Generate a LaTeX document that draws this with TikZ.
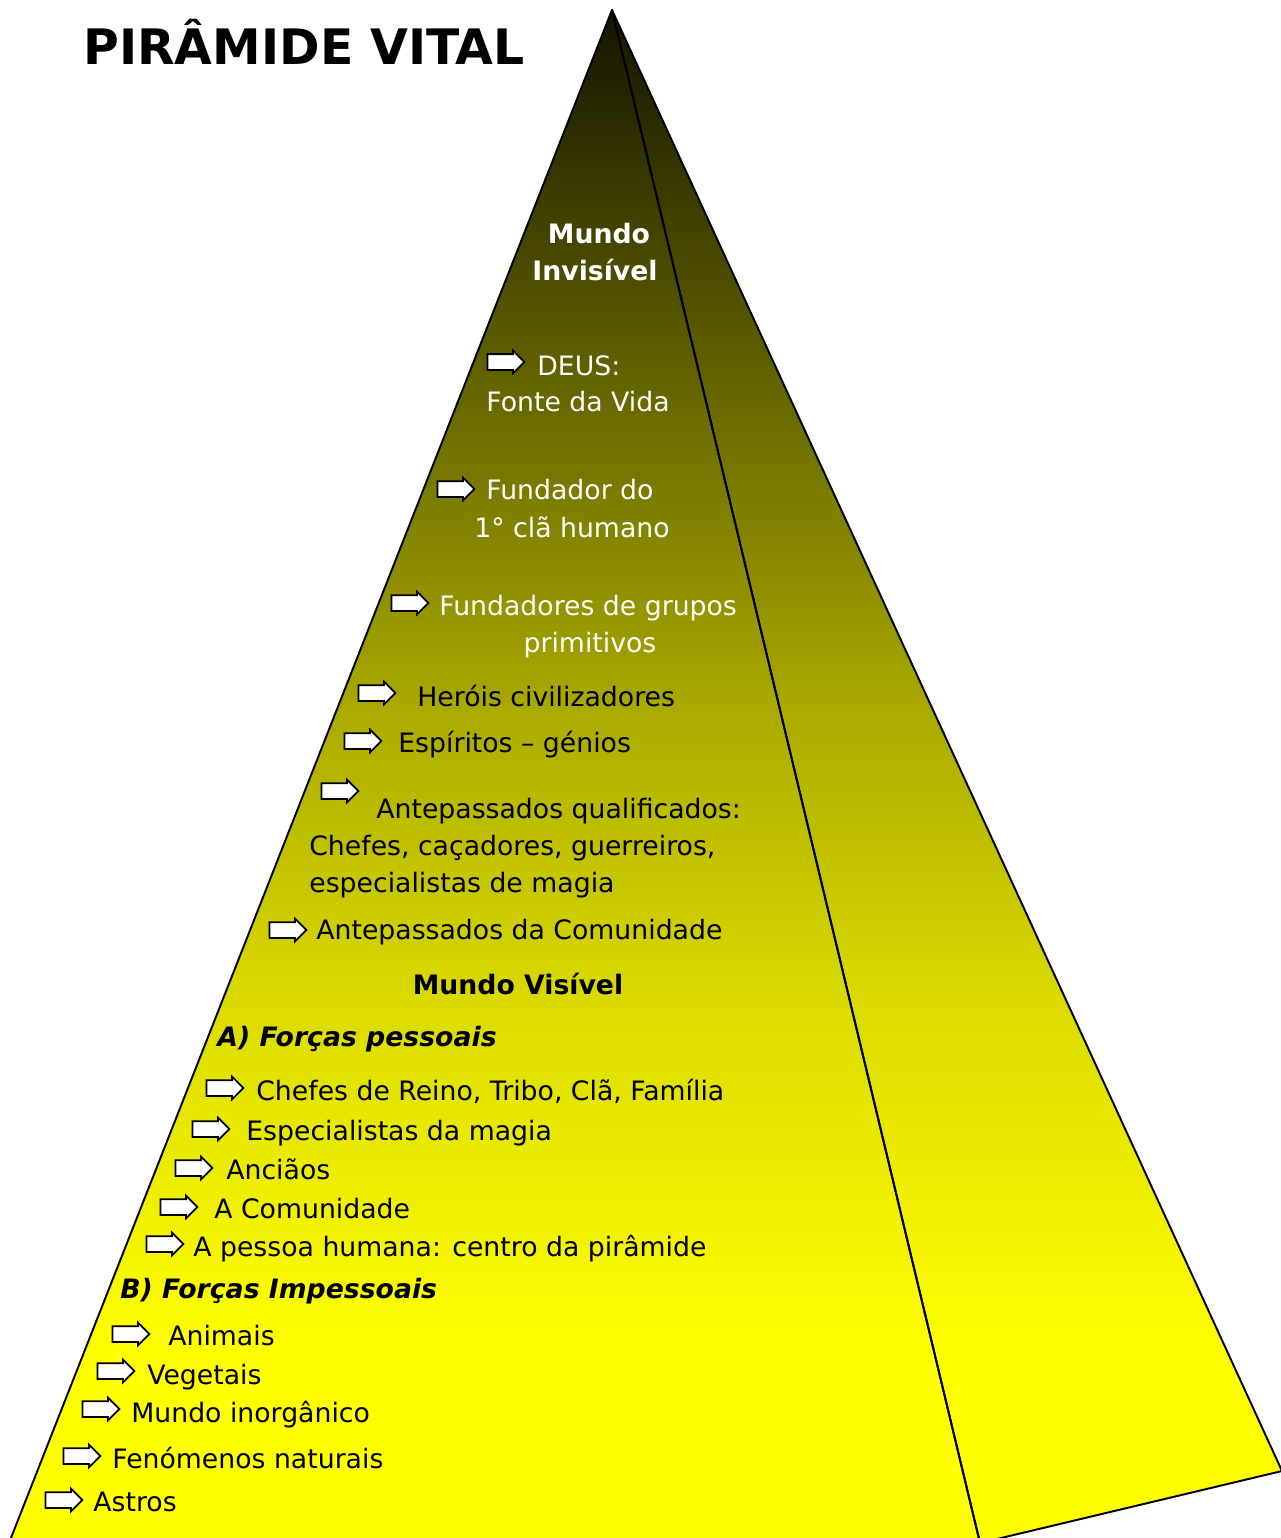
\documentclass[tikz,border=0pt]{standalone}
\usepackage{fontspec}
\setmainfont{DejaVu Sans}
\usetikzlibrary{shapes.arrows}

% cores do degradê da pirâmide (do topo para a base)
\definecolor{piramide0}{RGB}{18,18,0}
\definecolor{piramide1}{RGB}{168,168,0}
\definecolor{piramide2}{RGB}{218,218,0}
\definecolor{piramide3}{RGB}{255,255,0}

\tikzset{
    % O contorno das faces da pirâmide
    face/.style={
        draw=black,
        line width=1.1pt,
        line join=round
    },
    % As setas brancas antes de cada item
    seta/.style={
        single arrow,
        draw=black,
        fill=white,
        line width=1pt,
        minimum height=0.74cm,
        inner sep=0.14cm,
        single arrow head extend=0.07cm
    },
    % O texto dos itens
    texto_item/.style={
        anchor=base west,
        inner sep=0pt,
        font=\fontsize{15.2}{21}\selectfont
    },
    texto_claro/.style={texto_item, text=white},
    texto_negrito/.style={texto_item, font=\fontsize{15.2}{21}\selectfont\bfseries},
    titulo/.style={
        anchor=base west,
        inner sep=0pt,
        font=\fontsize{27.8}{32}\selectfont\bfseries
    }
}

\begin{document}
\begin{tikzpicture}[x=0.02cm, y=-0.02cm]

    \useasboundingbox (0,0) rectangle (1281,1538);
    \clip (0,0) rectangle (1281,1538);

    % --- 1. A pirâmide (duas faces com degradê) ---
    \def\faceesquerda{(612,10) -- (9,1543) -- (980,1543) -- cycle}
    \def\facedireita{(612,10) -- (980,1543) -- (1282,1471) -- cycle}

    \begin{scope}
        \clip (612,10) -- (9,1543) -- (980,1543) -- (1282,1471) -- cycle;
        \shade[top color=piramide0, bottom color=piramide1] (0,0) rectangle (1281,701);
        \shade[top color=piramide1, bottom color=piramide2] (0,699) rectangle (1281,1001);
        \shade[top color=piramide2, bottom color=piramide3] (0,999) rectangle (1281,1351);
        \fill[piramide3] (0,1349) rectangle (1281,1545);
    \end{scope}

    \draw[face] \faceesquerda;
    \draw[face] \facedireita;

    % --- 2. Título ---
    \node[titulo] (titulo) at (83,64) {PIRÂMIDE VITAL};

    % --- 3. Mundo invisível ---
    \node[texto_negrito, text=white, anchor=base] (invisivel1) at (599,243) {Mundo};
    \node[texto_negrito, text=white, anchor=base] (invisivel2) at (595,280) {Invisível};

    \node[seta] (seta1) at (502,362) {};
    \node[texto_claro] (deus) at (537,375) {DEUS:};
    \node[texto_claro] (fonte) at (486,411) {Fonte da Vida};

    \node[seta] (seta2) at (452,489) {};
    \node[texto_claro] (fundador) at (486,499) {Fundador do};
    \node[texto_claro] (cla) at (474,537) {1° clã humano};

    \node[seta] (seta3) at (406,603) {};
    \node[texto_claro] (fundadores) at (439,615) {Fundadores de grupos};
    \node[texto_claro, anchor=base] (primitivos) at (590,652) {primitivos};

    \node[seta] (seta4) at (373,693) {};
    \node[texto_item] (herois) at (417,706) {Heróis civilizadores};

    \node[seta] (seta5) at (359,741) {};
    \node[texto_item] (espiritos) at (398,752) {Espíritos – génios};

    \node[seta] (seta6) at (336,791) {};
    \node[texto_item] (qualificados) at (376,818) {Antepassados qualificados:};
    \node[texto_item] (chefes) at (309,855) {Chefes, caçadores, guerreiros,};
    \node[texto_item] (magia) at (309,892) {especialistas de magia};

    \node[seta] (seta7) at (284,930) {};
    \node[texto_item] (comunidade) at (316,939) {Antepassados da Comunidade};

    % --- 4. Mundo visível ---
    \node[texto_negrito, anchor=base] (visivel) at (518,994) {Mundo Visível};

    % A) forças pessoais
    \node[texto_negrito, font=\fontsize{15.2}{21}\selectfont\bfseries\itshape] (pessoais) at (217,1046) {A) Forças pessoais};

    \node[seta] (seta8) at (221,1088) {};
    \node[texto_item] (reino) at (256,1100) {Chefes de Reino, Tribo, Clã, Família};

    \node[seta] (seta9) at (207,1129) {};
    \node[texto_item] (especialistas) at (246,1140) {Especialistas da magia};

    \node[seta] (seta10) at (190,1168) {};
    \node[texto_item] (ancioes) at (226,1179) {Anciãos};

    \node[seta] (seta11) at (175,1207) {};
    \node[texto_item] (acomunidade) at (214,1218) {A Comunidade};

    \node[seta] (seta12) at (161,1244) {};
    \node[texto_item] (pessoa) at (193,1256) {A pessoa humana: centro da pirâmide};

    % B) forças impessoais
    \node[texto_negrito, font=\fontsize{15.2}{21}\selectfont\bfseries\itshape] (impessoais) at (120,1298) {B) Forças Impessoais};

    \node[seta] (seta13) at (127,1334) {};
    \node[texto_item] (animais) at (168,1345) {Animais};

    \node[seta] (seta14) at (112,1371) {};
    \node[texto_item] (vegetais) at (147,1384) {Vegetais};

    \node[seta] (seta15) at (97,1409) {};
    \node[texto_item] (inorganico) at (131,1422) {Mundo inorgânico};

    \node[seta] (seta16) at (78,1456) {};
    \node[texto_item] (fenomenos) at (112,1468) {Fenómenos naturais};

    \node[seta] (seta17) at (60,1500) {};
    \node[texto_item] (astros) at (93,1511) {Astros};

\end{tikzpicture}
\end{document}
